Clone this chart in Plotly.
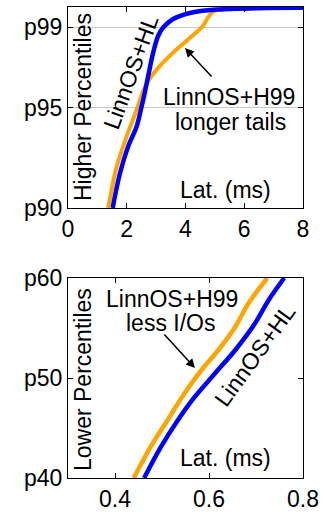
import plotly.graph_objects as go

# ---- data ----
top_hl_x = [1.52, 1.77, 2.05, 2.34, 2.51, 2.59, 2.73, 2.90, 3.07, 3.24, 3.58, 4.15, 5.06, 6.76, 8.0]
top_hl_y = [90.0, 91.73, 93.07, 94.07, 95.07, 95.57, 96.57, 97.73, 98.57, 98.98, 99.4, 99.7, 99.87, 99.95, 99.96]
top_h99_x = [1.37, 1.66, 2.0, 2.34, 2.56, 2.73, 3.13, 3.58, 4.04, 4.49, 4.6, 4.77, 4.94, 5.6, 8.0]
top_h99_y = [90.0, 92.07, 93.57, 94.9, 95.82, 96.32, 97.07, 97.73, 98.32, 98.9, 99.07, 99.48, 99.77, 99.9, 99.96]

bot_h99_x = [0.44, 0.476, 0.512, 0.548, 0.584, 0.620, 0.656, 0.684, 0.724]
bot_h99_y = [40.0, 43.13, 45.8, 48.47, 50.8, 52.8, 55.13, 57.47, 60.0]
bot_hl_x = [0.462, 0.498, 0.534, 0.570, 0.613, 0.656, 0.698, 0.727, 0.760]
bot_hl_y = [40.0, 43.13, 45.8, 48.13, 50.47, 52.8, 55.47, 57.8, 60.0]

top_yticks = [90, 95, 99]
top_yticktext = ["p90", "p95", "p99"]
top_xticks = [0, 2, 4, 6, 8]
bot_yticks = [40, 50, 60]
bot_yticktext = ["p40", "p50", "p60"]
bot_xticks = [0.4, 0.6, 0.8]

BLUE = "#0000ff"
ORANGE = "#ffa500"
FONT = "Liberation Sans, Arial, sans-serif"
FS = 23

fig = go.Figure()
fig.add_trace(go.Scatter(x=top_h99_x, y=top_h99_y, mode="lines", line=dict(color=ORANGE, width=4),
                         xaxis="x", yaxis="y", showlegend=False, line_shape="spline"))
fig.add_trace(go.Scatter(x=top_hl_x, y=top_hl_y, mode="lines", line=dict(color=BLUE, width=4.5),
                         xaxis="x", yaxis="y", showlegend=False, line_shape="spline"))
fig.add_trace(go.Scatter(x=bot_h99_x, y=bot_h99_y, mode="lines", line=dict(color=ORANGE, width=4.5),
                         xaxis="x2", yaxis="y2", showlegend=False, line_shape="spline"))
fig.add_trace(go.Scatter(x=bot_hl_x, y=bot_hl_y, mode="lines", line=dict(color=BLUE, width=4.5),
                         xaxis="x2", yaxis="y2", showlegend=False, line_shape="spline"))

L, R, T, B = 68, 31, 7, 34
W, H = 334, 512
PW = W - L - R
PH = H - T - B


def px(x):
    return (x - L) / PW


def py(y):
    return (H - B - y) / PH


axis_common = dict(showline=True, linecolor="black", linewidth=1.2, mirror="ticks",
                   ticks="inside", ticklen=5, tickcolor="black", zeroline=False,
                   automargin=False,
                   tickfont=dict(family=FONT, size=FS, color="black"))

fig.update_layout(
    width=W, height=H,
    margin=dict(l=L, r=R, t=T, b=B, autoexpand=False),
    plot_bgcolor="white", paper_bgcolor="white",
    font=dict(family=FONT, size=FS, color="black"),
    hovermode=False,
    xaxis=dict(domain=[0, 1], anchor="y", range=[0, 8], tickvals=top_xticks, showgrid=False,
               **axis_common),
    yaxis=dict(domain=[py(208), 1], anchor="x", range=[90, 100], tickvals=top_yticks,
               ticktext=top_yticktext, showgrid=True, gridcolor="#c8c8c8", gridwidth=1,
               **axis_common),
    xaxis2=dict(domain=[0, 1], anchor="y2", range=[0.3, 0.8], tickvals=bot_xticks, showgrid=False,
                **axis_common),
    yaxis2=dict(domain=[0, py(278)], anchor="x2", range=[40, 60], tickvals=bot_yticks,
                ticktext=bot_yticktext, showgrid=False, **axis_common),
)


def txt(x, y, s, angle=0):
    return dict(x=px(x), y=py(y), xref="paper", yref="paper", text=s, showarrow=False,
                textangle=angle, xanchor="center", yanchor="middle",
                font=dict(family=FONT, size=FS, color="black"))


ann = [
    txt(83, 107, "Higher Percentiles", -90),
    txt(131, 72, "LinnOS+HL", -70),
    txt(229, 97, "LinnOS+H99"),
    txt(230, 122, "longer tails"),
    txt(225, 190, "Lat. (ms)"),
    txt(83, 380, "Lower Percentiles", -90),
    txt(172, 299, "LinnOS+H99"),
    txt(170, 323, "less I/Os"),
    txt(255, 355, "LinnOS+HL", -54),
    txt(225, 458, "Lat. (ms)"),
]
# arrows (head position in paper coords, tail offset in pixels)
ann.append(dict(x=px(185), y=py(48), ax=28, ay=30, xref="paper", yref="paper",
                axref="pixel", ayref="pixel", text="", showarrow=True, arrowhead=2,
                arrowsize=1.2, arrowwidth=1.5, arrowcolor="black"))
ann.append(dict(x=px(195), y=py(368), ax=-32, ay=-35, xref="paper", yref="paper",
                axref="pixel", ayref="pixel", text="", showarrow=True, arrowhead=2,
                arrowsize=1.2, arrowwidth=1.5, arrowcolor="black"))
fig.update_layout(annotations=ann)

fig.write_html("out.html", config={"displayModeBar": False},
               post_script="document.body.style.margin='0';")
